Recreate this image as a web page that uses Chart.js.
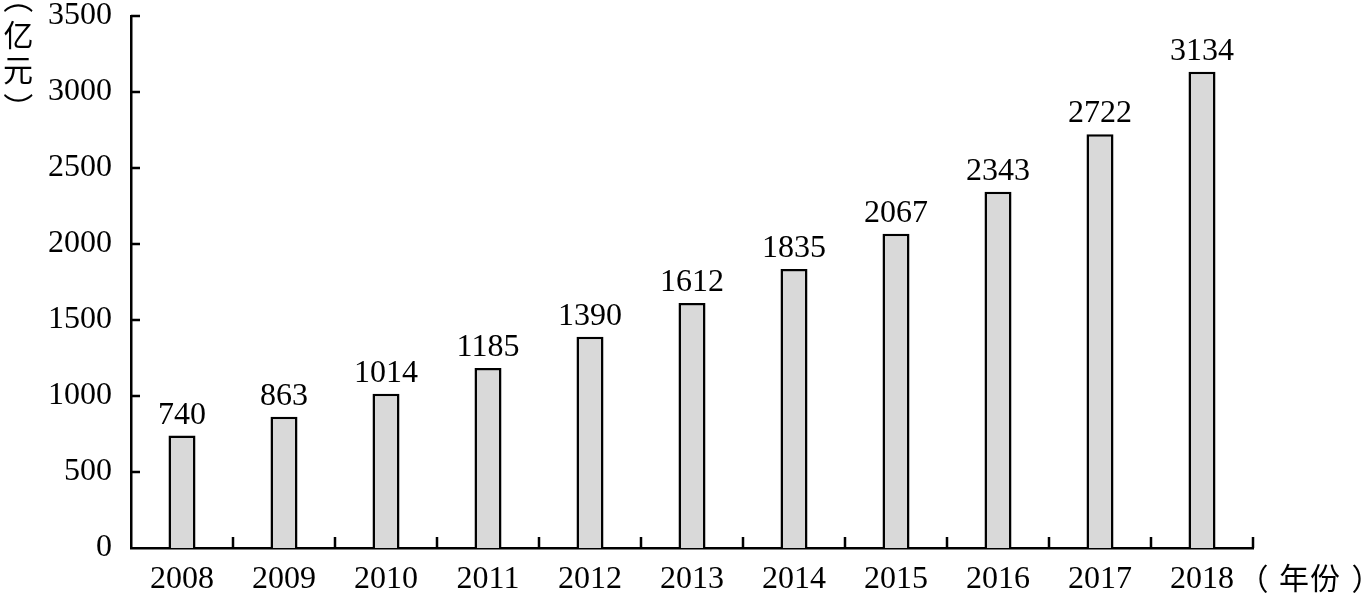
<!DOCTYPE html>
<html lang="zh">
<head>
    <meta charset="UTF-8">
    <title>2008-2018 亿元</title>
    <script src="https://cdn.jsdelivr.net/npm/chart.js"></script>
    <style>
        html, body { margin: 0; padding: 0; background: #fff; }
        #wrap { width: 1368px; height: 596px; position: relative; }
    </style>
</head>
<body>
<div id="wrap"><canvas id="barChart" width="1368" height="596"></canvas></div>
<script>
const years = ['2008', '2009', '2010', '2011', '2012', '2013', '2014', '2015', '2016', '2017', '2018'];
const amounts = [740, 863, 1014, 1185, 1390, 1612, 1835, 2067, 2343, 2722, 3134];
const yTicks = [0, 500, 1000, 1500, 2000, 2500, 3000, 3500];
const yTitle = ['（', '亿', '元', '）'];
const xTitle = ['（', '年', '份', '）'];

const serif = '"Liberation Serif", "Times New Roman", serif';
const cjk = '"Noto Sans CJK SC", sans-serif';

// draw one glyph so its ink is centred on (cx, cy), optionally turned
function glyphAt(ctx, ch, cx, cy, turn) {
    ctx.save();
    ctx.textAlign = 'left';
    ctx.textBaseline = 'alphabetic';
    const m = ctx.measureText(ch);
    ctx.translate(cx, cy);
    if (turn) ctx.rotate(Math.PI / 2);
    const dx = -(m.actualBoundingBoxRight - m.actualBoundingBoxLeft) / 2;
    const dy = (m.actualBoundingBoxAscent - m.actualBoundingBoxDescent) / 2;
    ctx.fillText(ch, dx, dy);
    ctx.restore();
}

// value labels, inward tick marks and the two axis titles
const extras = {
    id: 'extras',
    afterDraw(chart) {
        const ctx = chart.ctx;
        const xs = chart.scales.x, ys = chart.scales.y;
        ctx.save();
        ctx.strokeStyle = '#000';
        ctx.lineWidth = 2.5;
        ctx.beginPath();
        yTicks.forEach(v => {
            if (v === 0) return;
            const py = ys.getPixelForValue(v);
            ctx.moveTo(xs.left, py);
            ctx.lineTo(xs.left + 9, py);
        });
        for (let i = 0; i < years.length; i++) {
            const px = xs.getPixelForValue(i + 0.5);
            ctx.moveTo(px, ys.bottom);
            ctx.lineTo(px, ys.bottom - 11);
        }
        ctx.stroke();

        ctx.fillStyle = '#000';
        ctx.font = '32px ' + serif;
        ctx.textAlign = 'center';
        ctx.textBaseline = 'alphabetic';
        chart.getDatasetMeta(0).data.forEach((bar, i) => {
            ctx.fillText(String(amounts[i]), bar.x, bar.y - 12);
        });

        ctx.font = '30px ' + cjk;
        // （年份） after the last year label
        const xPos = [1263, 1294, 1325, 1357];
        xTitle.forEach((ch, i) => glyphAt(ctx, ch, xPos[i], ys.bottom + 30, false));

        // vertical （亿元） at the top left, brackets turned
        const yPos = [8, 35, 71, 98];
        yTitle.forEach((ch, i) => glyphAt(ctx, ch, 18, yPos[i], ch === '（' || ch === '）'));
        ctx.restore();
    }
};

const ctx = document.getElementById('barChart').getContext('2d');
new Chart(ctx, {
    type: 'bar',
    data: {
        labels: years,
        datasets: [{
            data: amounts,
            backgroundColor: '#d9d9d9',
            borderColor: '#000',
            borderWidth: 2.5,
            borderSkipped: 'bottom',
            categoryPercentage: 1,
            barPercentage: 0.265
        }]
    },
    options: {
        responsive: false,
        animation: false,
        devicePixelRatio: 1,
        layout: { padding: { top: 16, right: 115, left: 0, bottom: 0 } },
        plugins: { legend: { display: false }, tooltip: { enabled: false } },
        scales: {
            x: {
                grid: { display: false, drawTicks: false },
                border: { color: '#000', width: 2.5 },
                ticks: { color: '#000', font: { family: serif, size: 32 }, padding: 12, maxRotation: 0 },
                afterFit(scale) {
                    scale.height = 48;
                    scale.paddingLeft = 0;
                    scale.paddingRight = 0;
                }
            },
            y: {
                min: 0,
                max: 3500,
                grid: { display: false, drawTicks: false },
                border: { color: '#000', width: 2.5 },
                ticks: {
                    color: '#000',
                    font: { family: serif, size: 32 },
                    padding: 19,
                    stepSize: 500,
                    callback: v => String(v)
                },
                afterBuildTicks(scale) { scale.ticks = yTicks.map(v => ({ value: v })); },
                afterFit(scale) {
                    scale.width = 131;
                    scale.paddingTop = 0;
                    scale.paddingBottom = 0;
                }
            }
        }
    },
    plugins: [extras]
});
</script>
</body>
</html>
